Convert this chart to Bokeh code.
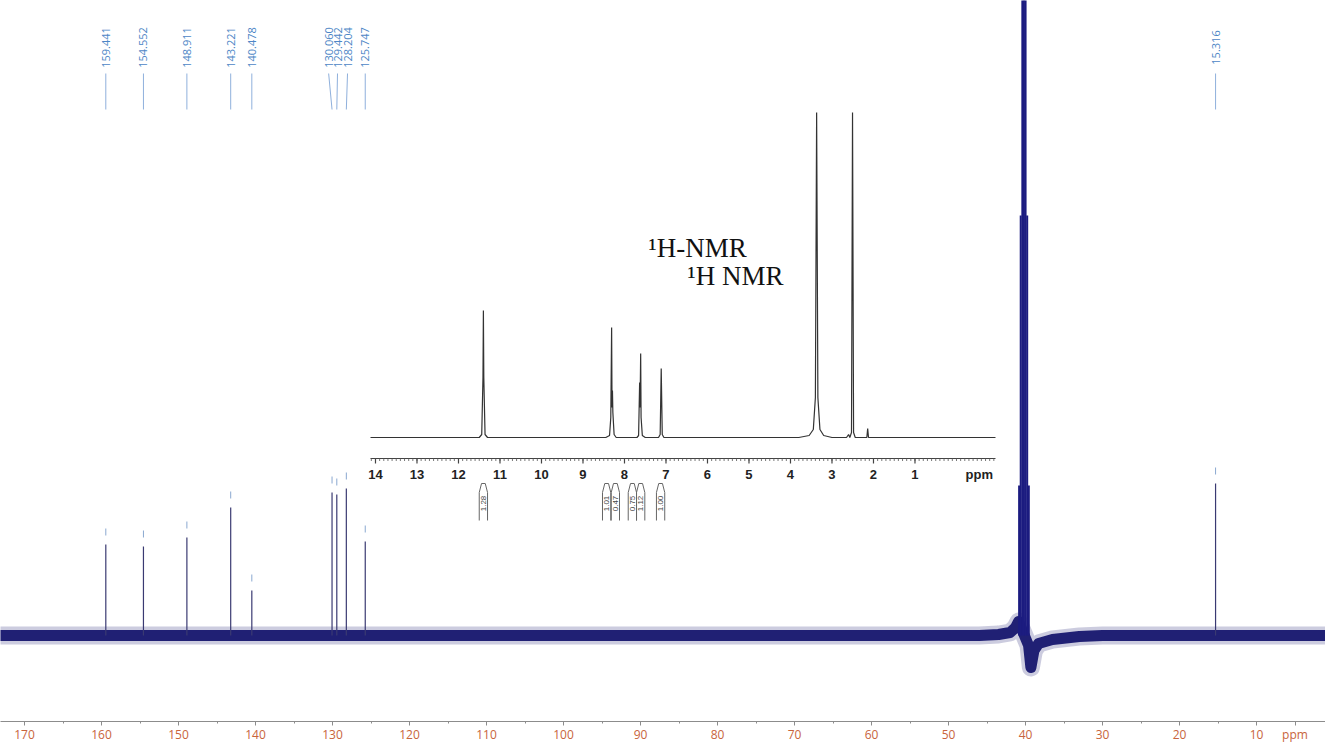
import math
from bokeh.plotting import figure
from bokeh.models import Range1d, FixedTicker
from bokeh.core.properties import value
from bokeh.embed import file_html
from bokeh.resources import INLINE

# ---------------- 13C spectrum data ----------------
c13_ppm = [159.441, 154.552, 148.911, 143.221, 140.478, 130.060, 129.442, 128.204, 125.747, 15.316]
c13_int = [91, 89, 98, 128, 45, 143, 141, 147, 94, 152]
c13_labels = ["159.441", "154.552", "148.911", "143.221", "140.478",
              "130.060", "129.442", "128.204", "125.747", "15.316"]
c13_label_ppm = [159.441, 154.552, 148.911, 143.221, 140.478, 130.50, 129.35, 128.05, 125.747, 15.316]

dmso_ppm = [40.83, 40.62, 40.41, 40.20, 39.99, 39.78, 39.57]
dmso_int = [150, 420, 800, 1000, 800, 420, 150]

base_ppm = [173.2, 46.0, 43.5, 42.0, 41.3, 40.9, 39.6, 39.3, 38.9, 38.3, 36.5, 33.0, 30.0, 1.0]
base_off = [0, 0, 1, 3, 8, 14, -10, -32, -15, -8, -4, -1, 0, 0]

c13_major = [170, 160, 150, 140, 130, 120, 110, 100, 90, 80, 70, 60, 50, 40, 30, 20, 10, 5]
c13_major_labels = {5: "ppm"}
c13_minor = [165, 155, 145, 135, 125, 115, 105, 95, 85, 75, 65, 55, 45, 35, 25, 15]

# ---------------- 1H inset data ----------------
h_ppm = [14.12, 11.50, 11.44, 11.41, 11.40, 11.39, 11.36, 11.30,
         8.45, 8.36, 8.33, 8.31, 8.30, 8.29, 8.28, 8.25, 8.20,
         7.70, 7.66, 7.635, 7.625, 7.61, 7.60, 7.57, 7.50,
         7.18, 7.14, 7.115, 7.09, 7.05,
         3.80, 3.55, 3.45, 3.40, 3.37, 3.34, 3.29, 3.20, 3.00,
         2.65, 2.60, 2.57, 2.53, 2.505, 2.48, 2.44,
         2.16, 2.14, 2.12, -0.94]
h_int = [0, 0, 3, 60, 127, 60, 3, 0,
         0, 2, 20, 110, 30, 47, 25, 3, 0,
         0, 2, 55, 30, 84, 20, 2, 0,
         0, 3, 69, 3, 0,
         0, 2, 8, 40, 325, 40, 8, 2, 0,
         0, 3, 0, 5, 325, 5, 0,
         0, 9, 0, 0]

h_major = [14, 13, 12, 11, 10, 9, 8, 7, 6, 5, 4, 3, 2, 1]
h_major_labels = [str(v) for v in h_major]
h_minor = [round(14.1 - 0.1 * i, 1) for i in range(151)]

integ_ppm = [11.40, 8.43, 8.22, 7.81, 7.61, 7.13]
integ_labels = ["1.28", "1.01", "0.47", "0.75", "1.12", "1.00"]

title_texts = ["\u00b9H-NMR", "\u00b9H NMR"]
title_ppm = [7.42, 6.48]


def ry(ref_y):
    """layout helper: reference pixel row -> main y units"""
    return 733 - ref_y


# ---------------- figure ----------------
p = figure(width=1325, height=745, x_range=Range1d(173.117, 1.039), y_range=Range1d(12, 733),
           output_backend="svg", toolbar_location=None, y_axis_location=None,
           min_border_left=0, min_border_right=0, min_border_top=0, min_border_bottom=0)
p.outline_line_color = None
p.xgrid.visible = False
p.ygrid.visible = False

p.extra_y_ranges = {"c": Range1d(12 - 98, 733 - 98), "hy": Range1d(12 - 296, 733 - 296)}
p.extra_x_ranges = {"h": Range1d(23.036, -8.892)}

ax = p.xaxis[0]
ax.ticker = FixedTicker(ticks=c13_major, minor_ticks=c13_minor)
ax.major_label_overrides = c13_major_labels
ax.axis_line_color = "#8c8c8c"
ax.major_tick_line_color = "#8c8c8c"
ax.minor_tick_line_color = "#8c8c8c"
ax.major_tick_in = 0
ax.major_tick_out = 4
ax.minor_tick_in = 0
ax.minor_tick_out = 2
ax.major_label_standoff = 0
ax.major_label_text_color = "#c8643c"
ax.major_label_text_font = "Open Sans"
ax.major_label_text_font_size = "12px"

NAVY = "#16166e"
# noise band / baseline
p.line(base_ppm, base_off, y_range_name="c", line_width=18, line_color=NAVY, line_alpha=0.22,
       line_join="round")
p.line(base_ppm, base_off, y_range_name="c", line_width=11, line_color=NAVY, line_alpha=0.95,
       line_join="round")

# DMSO septet
p.segment(x0=dmso_ppm, y0=[0] * len(dmso_ppm), x1=dmso_ppm, y1=dmso_int, y_range_name="c",
          line_color="#1c1c80", line_width=2.0)

# 13C peaks
n = len(c13_ppm)
p.segment(x0=c13_ppm, y0=[0] * n, x1=c13_ppm, y1=c13_int, y_range_name="c",
          line_color="#3a3a72", line_width=1.2)
# small markers above peaks
p.segment(x0=c13_ppm, y0=[h + 9 for h in c13_int], x1=c13_ppm, y1=[h + 16 for h in c13_int],
          y_range_name="c", line_color="#8aa8d0", line_width=1)

# top labels and leaders
p.segment(x0=c13_label_ppm, y0=[ry(73)] * n, x1=c13_ppm, y1=[ry(109)] * n,
          line_color="#8fb0dc", line_width=1)
p.text(x=c13_label_ppm, y=[ry(47)] * n, text=c13_labels, angle=math.pi / 2,
       text_align="center", text_baseline="middle", text_font=value("Open Sans"),
       text_font_size="11px", text_color="#4d86c6")

# ---------------- 1H inset ----------------
p.line(h_ppm, h_int, x_range_name="h", y_range_name="hy", line_color="#333333", line_width=1.2)

AX_Y = ry(458)
p.segment(x0=[14.12], y0=[AX_Y], x1=[-0.94], y1=[AX_Y], x_range_name="h",
          line_color="#444444", line_width=1.2)
p.segment(x0=h_minor, y0=[AX_Y] * len(h_minor), x1=h_minor, y1=[AX_Y - 2.5] * len(h_minor),
          x_range_name="h", line_color="#555555", line_width=0.8)
p.segment(x0=h_major, y0=[AX_Y] * len(h_major), x1=h_major, y1=[AX_Y - 5] * len(h_major),
          x_range_name="h", line_color="#444444", line_width=1.2)
p.text(x=h_major, y=[ry(474)] * len(h_major), text=h_major_labels, x_range_name="h",
       text_align="center", text_baseline="middle", text_font=value("Liberation Sans"),
       text_font_style="bold", text_font_size="13px", text_color="#222222")
p.text(x=[-0.55], y=[ry(474)], text=["ppm"], x_range_name="h",
       text_align="center", text_baseline="middle", text_font=value("Liberation Sans"),
       text_font_style="bold", text_font_size="13px", text_color="#222222")

# integrals
HW = 0.1
xs, ys = [], []
for c in integ_ppm:
    xs.append([c - HW, c - HW, c - HW * 0.45, c + HW * 0.45, c + HW, c + HW])
    ys.append([ry(520), ry(492), ry(483), ry(483), ry(492), ry(520)])
p.multi_line(xs, ys, x_range_name="h", line_color="#666666", line_width=1)
p.text(x=integ_ppm, y=[ry(503)] * len(integ_ppm), text=integ_labels, x_range_name="h",
       angle=math.pi / 2, text_align="center", text_baseline="middle",
       text_font=value("Liberation Sans"), text_font_size="8px", text_color="#444444")

# titles
p.text(x=title_ppm, y=[ry(247), ry(275)], text=title_texts, x_range_name="h",
       text_align="left", text_baseline="alphabetic", text_font=value("Liberation Serif"),
       text_font_size="27px", text_color="#111111")

open("out.html", "w").write(file_html(p, INLINE))
